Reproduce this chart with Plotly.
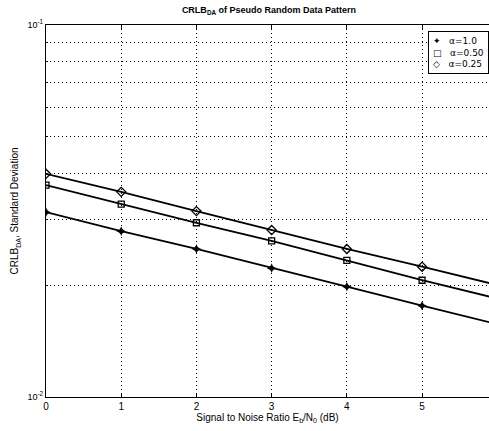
import plotly.graph_objects as go

# SNR points (dB)
snr_db = [0, 1, 2, 3, 4, 5, 6]

# CRLB_DA standard deviation for each roll-off factor
crlb_alpha_100 = [0.0314, 0.0279, 0.0250, 0.0222, 0.0198, 0.0176, 0.0157]
crlb_alpha_050 = [0.0371, 0.0330, 0.0294, 0.0263, 0.0233, 0.0206, 0.0184]
crlb_alpha_025 = [0.0398, 0.0356, 0.0316, 0.0281, 0.0250, 0.0224, 0.0200]

legend_labels = ["α=1.0", "α=0.50", "α=0.25"]
legend_glyphs = ["✦", "□", "◇"]

series = [
    (crlb_alpha_100, dict(symbol="star-diamond", size=7, color="black")),
    (crlb_alpha_050, dict(symbol="square-open", size=6, color="black",
                          line=dict(width=1.3, color="black"))),
    (crlb_alpha_025, dict(symbol="diamond-open", size=7, color="black",
                          line=dict(width=1.3, color="black"))),
]

x_ticks = [0, 1, 2, 3, 4, 5]
y_major = [0.01, 0.1]
y_major_text = ["10<sup>-2</sup>", "10<sup>-1</sup>"]
y_minor = [0.02, 0.03, 0.04, 0.05, 0.06, 0.07, 0.08, 0.09]

font = "Liberation Sans, Arial, sans-serif"
grid_dash = "1px,3px"

fig = go.Figure()
for (vals, mk), name in zip(series, legend_labels):
    fig.add_trace(go.Scatter(
        x=snr_db, y=vals, mode="lines+markers", marker=mk, name=name,
        line=dict(color="black", width=1.8), showlegend=False, cliponaxis=True,
    ))

# compact boxed legend, one line per roll-off factor
legend_text = "<br>".join(
    f"{g}&nbsp;&nbsp;&nbsp;{lbl}" for g, lbl in zip(legend_glyphs, legend_labels)
)
fig.add_annotation(
    xref="paper", yref="paper", x=1.0, y=0.984, xanchor="right", yanchor="top",
    text=legend_text, showarrow=False, align="left",
    font=dict(family="DejaVu Sans, " + font, size=9, color="black"),
    bgcolor="white", bordercolor="black", borderwidth=1, borderpad=4,
)

fig.update_layout(
    width=489, height=431,
    margin=dict(l=46, r=0, t=25, b=34),
    paper_bgcolor="white", plot_bgcolor="white",
    font=dict(family=font, size=10, color="black"),
    showlegend=False,
    title=dict(
        text="<b>CRLB<sub>DA</sub> of Pseudo Random Data Pattern</b>",
        x=0.55, xanchor="center", y=0.985, yanchor="top",
        font=dict(size=9, family=font, color="black"),
    ),
    xaxis=dict(
        range=[0, 5.89], tickvals=x_ticks, ticks="inside", ticklen=4,
        tickcolor="black", showline=True, linecolor="black", linewidth=1.3,
        mirror="ticks", showgrid=True, gridcolor="black", griddash=grid_dash,
        gridwidth=1, zeroline=False,
        title=dict(text="Signal to Noise Ratio E<sub>b</sub>/N<sub>0</sub> (dB)",
                   standoff=2, font=dict(size=10)),
        tickfont=dict(size=10),
    ),
    yaxis=dict(
        type="log", range=[-2, -1], tickvals=y_major, ticktext=y_major_text,
        ticks="inside", ticklen=4, tickcolor="black",
        showline=True, linecolor="black", linewidth=1.3, mirror=False,
        showgrid=False, zeroline=False,
        minor=dict(tickvals=y_minor, showgrid=True, gridcolor="black",
                   griddash=grid_dash, gridwidth=1, ticks="inside", ticklen=2,
                   tickcolor="black"),
        title=dict(text="CRLB<sub>DA</sub>, Standard Deviation", standoff=6,
                   font=dict(size=10)),
        tickfont=dict(size=9),
    ),
)

fig.write_html("out.html")
